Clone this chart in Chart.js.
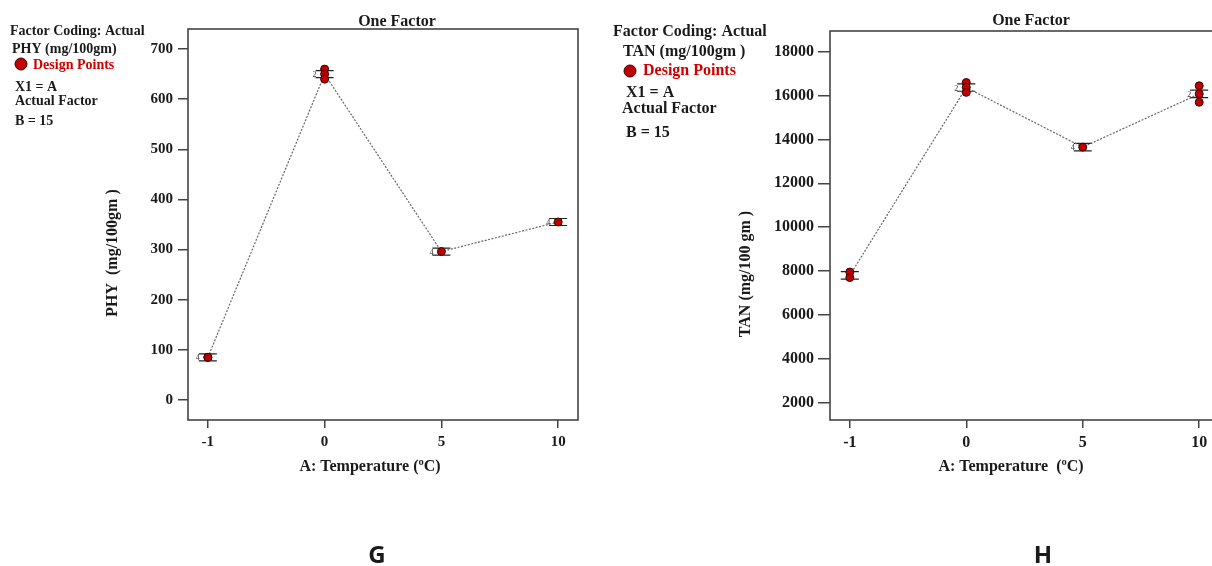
<!DOCTYPE html>
<html>
<head>
<meta charset="utf-8">
<title>One Factor plots</title>
<script src="https://cdn.jsdelivr.net/npm/chart.js@4.4.0/dist/chart.umd.min.js"></script>
<style>
  html, body { margin: 0; padding: 0; background: #fff; overflow: hidden; width: 1212px; height: 566px; }
  #wrapG { position: absolute; left: 0; top: 0; width: 606px; height: 566px; }
  #wrapH { position: absolute; left: 606px; top: 0; width: 620px; height: 566px; }
</style>
</head>
<body>
<div id="wrapG"><canvas id="chartG" width="606" height="566"></canvas></div>
<div id="wrapH"><canvas id="chartH" width="620" height="566"></canvas></div>

<script>
// temperature levels (categorical, evenly spaced)
const tempLabels = ['-1', '0', '5', '10'];
const tempIndex = [0, 1, 2, 3];

// PHY (mg/100gm)
const phyMean = [85, 650, 296, 355];
const phyRunsX = [0, 0, 1, 1, 1, 2, 3];
const phyRunsY = [85, 85, 660, 650, 640, 296, 355];
const phyTicks = [0, 100, 200, 300, 400, 500, 600, 700];
const phyLsd = 7;
const phyCounts = ['4', '2', '4', '4'];

// TAN (mg/100 gm)
const tanMean = [7800, 16370, 13650, 16080];
const tanRunsX = [0, 0, 1, 1, 1, 2, 3, 3, 3];
const tanRunsY = [7950, 7700, 16600, 16380, 16150, 13650, 16450, 16080, 15700];
const tanTicks = [2000, 4000, 6000, 8000, 10000, 12000, 14000, 16000, 18000];
const tanLsd = 170;
const tanCounts = ['', '2', '4', '2'];

const SERIF = '"Liberation Serif", "Times New Roman", serif';

// box around the plot area
const framePlugin = {
  id: 'frame',
  afterDraw(chart) {
    const { ctx, chartArea: a } = chart;
    ctx.save();
    ctx.strokeStyle = '#444';
    ctx.lineWidth = 1.6;
    ctx.strokeRect(a.left, a.top, a.right - a.left, a.bottom - a.top);
    ctx.restore();
  }
};

// short double bars around each mean, with the run count beside them
const lsdPlugin = {
  id: 'lsdBars',
  beforeDatasetsDraw(chart, args, opts) {
    const { ctx, scales: { x, y } } = chart;
    ctx.save();
    ctx.strokeStyle = '#222';
    ctx.lineWidth = 1.2;
    ctx.fillStyle = '#333';
    ctx.font = '8px ' + SERIF;
    ctx.textAlign = 'right';
    ctx.textBaseline = 'middle';
    opts.means.forEach((m, i) => {
      const px = x.getPixelForValue(tempIndex[i]);
      const yHi = y.getPixelForValue(m + opts.half);
      const yLo = y.getPixelForValue(m - opts.half);
      ctx.beginPath();
      ctx.moveTo(px - 9, yHi); ctx.lineTo(px + 9, yHi);
      ctx.moveTo(px - 9, yLo); ctx.lineTo(px + 9, yLo);
      ctx.moveTo(px, yHi); ctx.lineTo(px, yLo);
      ctx.stroke();
      if (opts.counts[i]) ctx.fillText(opts.counts[i], px - 8, (yHi + yLo) / 2 + 1);
    });
    ctx.restore();
  }
};

// annotation text: titles, key, axis titles, panel letter
const textPlugin = {
  id: 'panelText',
  afterDraw(chart, args, opts) {
    const { ctx } = chart;
    ctx.save();
    opts.items.forEach(t => {
      ctx.save();
      ctx.font = (t.weight || 'bold') + ' ' + t.size + 'px ' + (t.family || SERIF);
      ctx.fillStyle = t.color || '#1a1a1a';
      ctx.textAlign = t.align || 'left';
      ctx.textBaseline = t.base || 'alphabetic';
      ctx.translate(t.x, t.y);
      if (t.rotate) ctx.rotate(t.rotate);
      ctx.fillText(t.text, 0, 0);
      ctx.restore();
    });
    (opts.dots || []).forEach(d => {
      ctx.beginPath();
      ctx.arc(d.x, d.y, d.r, 0, Math.PI * 2);
      ctx.fillStyle = '#c00000';
      ctx.fill();
      ctx.lineWidth = 1;
      ctx.strokeStyle = '#3a0000';
      ctx.stroke();
    });
    ctx.restore();
  }
};

function buildChart(id, cfg) {
  const runs = cfg.runsX.map((v, i) => ({ x: v, y: cfg.runsY[i] }));
  const means = tempIndex.map((v, i) => ({ x: v, y: cfg.means[i] }));
  return new Chart(document.getElementById(id), {
    type: 'scatter',
    data: {
      datasets: [
        {
          data: runs,
          pointRadius: 4,
          pointHoverRadius: 4,
          backgroundColor: '#c00000',
          borderColor: '#3a0000',
          borderWidth: 1
        },
        {
          type: 'line',
          data: means,
          borderColor: '#666',
          borderWidth: 1.2,
          borderDash: [2, 1.5],
          pointRadius: 0,
          fill: false
        }
      ]
    },
    options: {
      responsive: false,
      animation: false,
      events: [],
      layout: { padding: { top: cfg.top, right: cfg.right, left: 0, bottom: 0 } },
      plugins: {
        legend: { display: false },
        tooltip: { enabled: false },
        lsdBars: { means: cfg.means, half: cfg.half, counts: cfg.counts },
        panelText: { items: cfg.text, dots: cfg.dots }
      },
      scales: {
        x: {
          type: 'linear',
          min: -0.17,
          max: 3.17,
          afterBuildTicks: s => { s.ticks = tempIndex.map(v => ({ value: v })); },
          afterFit: s => { s.height = 146; },
          border: { display: false },
          grid: { drawOnChartArea: false, tickLength: 8, color: '#444', lineWidth: 1.5 },
          ticks: {
            callback: v => tempLabels[v],
            color: '#1a1a1a',
            padding: 5,
            maxRotation: 0,
            font: { family: SERIF, size: cfg.tickSize, weight: 'bold' }
          }
        },
        y: {
          min: cfg.yMin,
          max: cfg.yMax,
          afterBuildTicks: s => { s.ticks = cfg.ticks.map(v => ({ value: v })); },
          afterFit: s => { s.width = cfg.left; },
          border: { display: false },
          grid: { drawOnChartArea: false, tickLength: cfg.tickLen, color: '#444', lineWidth: 1.5 },
          ticks: {
            callback: v => String(v),
            color: '#1a1a1a',
            padding: cfg.tickPad,
            font: { family: SERIF, size: cfg.tickSize, weight: 'bold' }
          }
        }
      }
    },
    plugins: [lsdPlugin, framePlugin, textPlugin]
  });
}

buildChart('chartG', {
  runsX: phyRunsX, runsY: phyRunsY, means: phyMean, half: phyLsd, counts: phyCounts,
  ticks: phyTicks, yMin: -40, yMax: 740,
  top: 29, right: 28, left: 188, tickLen: 10, tickPad: 5, tickSize: 15,
  dots: [{ x: 21, y: 64, r: 6 }],
  text: [
    { text: 'Factor Coding: Actual', x: 10, y: 35, size: 14 },
    { text: 'PHY (mg/100gm)', x: 12, y: 53, size: 14 },
    { text: 'Design Points', x: 33, y: 69, size: 14, color: '#d00000' },
    { text: 'X1 = A', x: 15, y: 91, size: 14 },
    { text: 'Actual Factor', x: 15, y: 105, size: 14 },
    { text: 'B = 15', x: 15, y: 125, size: 14 },
    { text: 'One Factor', x: 397, y: 26, size: 16, align: 'center' },
    { text: 'A: Temperature (\u00baC)', x: 370, y: 471, size: 16, align: 'center' },
    { text: 'PHY  (mg/100gm )', x: 113, y: 253, size: 16, align: 'center', base: 'middle', rotate: -Math.PI / 2 },
    { text: 'G', x: 377, y: 556, size: 24, align: 'center', base: 'middle', weight: 'bold', family: '"Open Sans", sans-serif' }
  ]
});

buildChart('chartH', {
  runsX: tanRunsX, runsY: tanRunsY, means: tanMean, half: tanLsd, counts: tanCounts,
  ticks: tanTicks, yMin: 1200, yMax: 18950,
  top: 31, right: 7, left: 224, tickLen: 12, tickPad: 4, tickSize: 16,
  dots: [{ x: 24, y: 71, r: 6 }],
  text: [
    { text: 'Factor Coding: Actual', x: 7, y: 36, size: 16 },
    { text: 'TAN (mg/100gm )', x: 17, y: 56, size: 16 },
    { text: 'Design Points', x: 37, y: 75, size: 16, color: '#d00000' },
    { text: 'X1 = A', x: 20, y: 97, size: 16 },
    { text: 'Actual Factor', x: 16, y: 113, size: 16 },
    { text: 'B = 15', x: 20, y: 137, size: 16 },
    { text: 'One Factor', x: 425, y: 25, size: 16, align: 'center' },
    { text: 'A: Temperature  (\u00baC)', x: 405, y: 471, size: 16, align: 'center' },
    { text: 'TAN (mg/100 gm )', x: 140, y: 274, size: 16, align: 'center', base: 'middle', rotate: -Math.PI / 2 },
    { text: 'H', x: 437, y: 556, size: 24, align: 'center', base: 'middle', weight: 'bold', family: '"Open Sans", sans-serif' }
  ]
});
</script>
</body>
</html>
